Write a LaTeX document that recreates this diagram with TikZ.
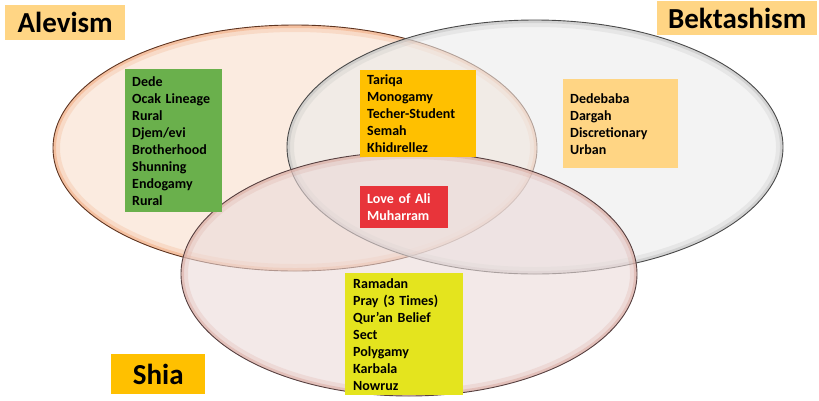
\documentclass[tikz,border=0pt]{standalone}
\usepackage{fontspec}
\setmainfont{Carlito}
\usepackage{xcolor}
\usetikzlibrary{positioning}

% Colores
\definecolor{aleviFill}{HTML}{F8DECB}
\definecolor{aleviRim}{HTML}{F09A68}
\definecolor{aleviLine}{HTML}{5E3420}
\definecolor{bektaFill}{HTML}{EBEBEB}
\definecolor{bektaRim}{HTML}{B4B4B4}
\definecolor{bektaLine}{HTML}{4A4A4A}
\definecolor{shiaFill}{HTML}{EBDAD9}
\definecolor{shiaRim}{HTML}{D49C90}
\definecolor{shiaLine}{HTML}{574040}
\definecolor{greenBox}{HTML}{6AB04C}
\definecolor{orangeBox}{HTML}{FFC000}
\definecolor{lightBox}{HTML}{FFD584}
\definecolor{redBox}{HTML}{E8343A}
\definecolor{yellowBox}{HTML}{E4E41E}

\tikzset{
  setfill/.style={fill=#1,fill opacity=0.6},
  setrim/.style={draw=#1,line width=0.9pt},
  catlabel/.style={anchor=north west,inner sep=0pt,align=center,
    font=\bfseries\fontsize{29}{32}\selectfont},
  itembox/.style={anchor=north west,inner xsep=7pt,inner ysep=0pt,align=left,
    font=\bfseries\fontsize{14}{17}\selectfont}
}

\begin{document}
\begin{tikzpicture}[x=1pt,y=-1pt]

  \useasboundingbox (0,0) rectangle (819,400);

  % Conjuntos: relleno, borde sombreado y contorno
  \foreach \cx/\cy/\rx/\ry/\fc/\rc/\lc in {
      295/148/242/123/aleviFill/aleviRim/aleviLine,
      535/147/248/127/bektaFill/bektaRim/bektaLine,
      409/274/228/122/shiaFill/shiaRim/shiaLine} {
    \fill[setfill=\fc] (\cx,\cy) ellipse [x radius=\rx pt,y radius=\ry pt];
    \begin{scope}
      \clip (\cx,\cy) ellipse [x radius=\rx pt,y radius=\ry pt];
      \draw[draw=\rc,line width=14pt,opacity=0.2]
        (\cx,\cy) ellipse [x radius=\rx pt,y radius=\ry pt];
      \draw[draw=\rc,line width=6pt,opacity=0.4]
        (\cx,\cy) ellipse [x radius=\rx pt,y radius=\ry pt];
    \end{scope}
    \draw[setrim=\lc] (\cx,\cy) ellipse [x radius=\rx pt,y radius=\ry pt];
  }

  % Etiquetas de los conjuntos
  \node[catlabel,fill=lightBox,minimum width=120pt,minimum height=35pt]
    (alevism) at (5,5) {Alevism};
  \node[catlabel,fill=lightBox,minimum width=160pt,minimum height=34pt]
    (bektashism) at (657,1) {Bektashism};
  \node[catlabel,fill=orangeBox,minimum width=94pt,minimum height=40pt]
    (shia) at (111,354) {Shia};

  % Solo Alevism
  \node[itembox,fill=greenBox,text width=83pt,minimum height=143pt]
    (aleviItems) at (125,69)
    {Dede\\Ocak Lineage\\Rural\\Djem/evi\\Brotherhood\\Shunning\\Endogamy\\Rural};

  % Alevism y Bektashism
  \node[itembox,fill=orangeBox,text width=102pt,minimum height=87pt]
    (sharedItems) at (360,70)
    {Tariqa\\Monogamy\\Techer-Student\\Semah\\Khidırellez};

  % Los tres conjuntos
  \node[itembox,fill=redBox,text=white,text width=74pt,minimum height=42pt]
    (commonItems) at (360,186)
    {Love of Ali\\Muharram};

  % Solo Bektashism
  \node[itembox,fill=lightBox,text width=101pt,minimum height=89pt]
    (bektaItems) at (563,79)
    {Dedebaba\\Dargah\\Discretionary\\Urban};

  % Solo Shia
  \node[itembox,fill=yellowBox,text width=102pt,minimum height=122pt,inner xsep=8pt]
    (shiaItems) at (345,273)
    {Ramadan\\Pray (3 Times)\\Qur’an Belief\\Sect\\Polygamy\\Karbala\\Nowruz};

\end{tikzpicture}
\end{document}
